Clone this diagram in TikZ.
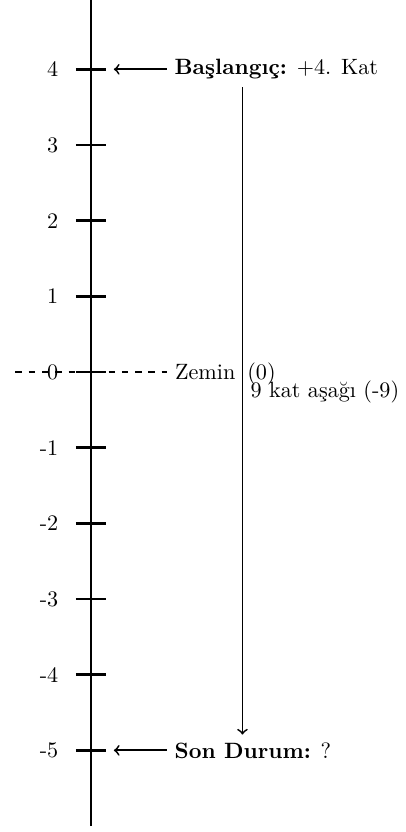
\documentclass[tikz,border=0pt]{standalone}
\usepackage{tikz}

\begin{document}
\begin{tikzpicture}[x=1.2cm,y=1.2cm]
% Fix the frame of the picture
\useasboundingbox (-1.204,-6.079) rectangle (4.161,4.916);

% Define points for the number line
\coordinate (axbot) at (0,-6);
\coordinate (axtop) at (0,5);
\coordinate (drop) at (2,0);
\coordinate (zleft) at (-1,0);
\coordinate (zright) at (1,0);

% Draw vertical number line
\draw[very thick] (axbot) -- (axtop);

% Ticks and floor numbers
\foreach \k in {-5,...,4} {
  \draw[very thick] (-0.2,\k) -- (0.2,\k);
  \node[left] (lbl\k) at (-0.33,\k) {\k};
}

% Ground level
\draw[thick, dashed] (zleft) -- (zright) node[right] (zemin) {Zemin};
\node[anchor=base west, inner sep=2pt] (zsifir) at (zemin.base -| drop) {(0)};

% Start and end labels
\node[right] (start) at (1,4) {\textbf{Başlangıç:} $+4$. Kat};
\node[right] (son) at (1,-5) {\textbf{Son Durum:} ?};
\coordinate (starttip) at (0.3,4);
\coordinate (sontip) at (0.3,-5);

% Pointer arrows
\draw[->, thick] (start.west) -- (starttip);
\draw[->, thick] (son.west) -- (sontip);

% Going down
\draw[->, thick] (start.south -| drop) -- (son.north -| drop)
  node[midway, above right] (fark) {9 kat aşağı (-9)};

\end{tikzpicture}
\end{document}
